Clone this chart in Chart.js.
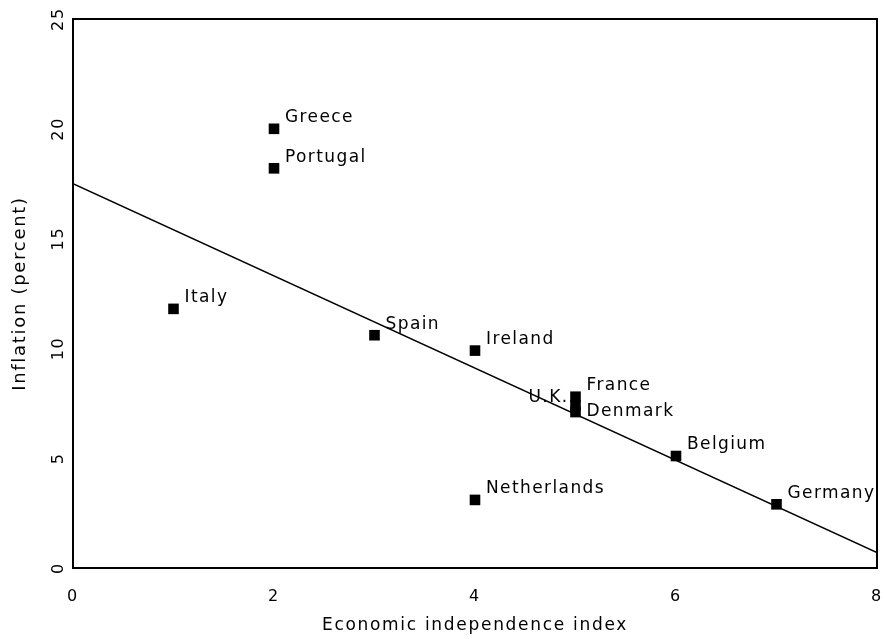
<!DOCTYPE html>
<html>
<head>
<meta charset="utf-8">
<script src="https://cdn.jsdelivr.net/npm/chart.js@4/dist/chart.umd.min.js"></script>
<style>
  html, body { margin: 0; padding: 0; background: #fff; }
  #wrap { width: 886px; height: 639px; }
</style>
</head>
<body>
<div id="wrap"><canvas id="chart"></canvas></div>
<script>
// values
const countries = ['Greece', 'Portugal', 'Italy', 'Spain', 'Ireland', 'France', 'U.K.', 'Denmark', 'Belgium', 'Netherlands', 'Germany'];
const independence = [2, 2, 1, 3, 4, 5, 5, 5, 6, 4, 7];
const inflation = [20.0, 18.2, 11.8, 10.6, 9.9, 7.8, 7.4, 7.1, 5.1, 3.1, 2.9];

// fitted line end points
const fitX = [0, 8];
const fitY = [17.5, 0.7];

const xTicks = [0, 2, 4, 6, 8];
const yTicks = [0, 5, 10, 15, 20, 25];

const FONT = 'DejaVu Sans';

// label placement tweaks (pixels from marker)
const labelOffset = {
  'U.K.': { dx: -7, dy: -8, align: 'right' },
  'Denmark': { dx: 11, dy: -1, align: 'left' }
};

// the plotter font is wider than DejaVu, so space the letters out a bit
const spacing = {
  id: 'spacing',
  beforeDraw(chart) { chart.ctx.letterSpacing = '1.7px'; }
};

const pointLabels = {
  id: 'pointLabels',
  afterDatasetsDraw(chart) {
    const { ctx } = chart;
    const meta = chart.getDatasetMeta(1);
    ctx.save();
    ctx.letterSpacing = '1.4px';
    ctx.font = '17px "' + FONT + '"';
    ctx.fillStyle = '#000';
    ctx.textBaseline = 'middle';
    meta.data.forEach((pt, i) => {
      const name = countries[i];
      const o = labelOffset[name] || { dx: 11, dy: -11, align: 'left' };
      ctx.textAlign = o.align;
      ctx.fillText(name, pt.x + o.dx, pt.y + o.dy);
    });
    ctx.restore();
  }
};

const frame = {
  id: 'frame',
  afterDraw(chart) {
    const { ctx, chartArea: a } = chart;
    ctx.save();
    ctx.strokeStyle = '#000';
    ctx.lineWidth = 2;
    ctx.strokeRect(a.left, a.top, a.right - a.left, a.bottom - a.top);
    ctx.restore();
  }
};

new Chart(document.getElementById('chart'), {
  type: 'scatter',
  data: {
    datasets: [
      {
        type: 'line',
        data: fitX.map((x, i) => ({ x: x, y: fitY[i] })),
        borderColor: '#000',
        borderWidth: 1.5,
        pointRadius: 0,
        fill: false
      },
      {
        data: independence.map((x, i) => ({ x: x, y: inflation[i] })),
        pointStyle: 'rect',
        pointRadius: 7.5,
        backgroundColor: '#000',
        borderColor: '#000',
        borderWidth: 0
      }
    ]
  },
  options: {
    responsive: true,
    maintainAspectRatio: false,
    animation: false,
    layout: { padding: { top: 19, right: 9, left: 0, bottom: 0 } },
    plugins: {
      legend: { display: false },
      tooltip: { enabled: false }
    },
    scales: {
      x: {
        type: 'linear',
        min: 0,
        max: 8,
        afterBuildTicks: s => { s.ticks = xTicks.map(v => ({ value: v })); },
        afterFit: s => { s.height = 71; s.paddingLeft = 0; s.paddingRight = 0; },
        grid: { display: false },
        border: { display: false },
        ticks: { color: '#000', font: { family: FONT, size: 16 }, padding: 11, maxRotation: 0 },
        title: {
          display: true,
          text: 'Economic independence index',
          color: '#000',
          font: { family: FONT, size: 17 },
          padding: { top: 0, bottom: 3 }
        }
      },
      y: {
        type: 'linear',
        min: 0,
        max: 25,
        afterBuildTicks: s => { s.ticks = yTicks.map(v => ({ value: v })); },
        afterFit: s => { s.width = 73; s.paddingTop = 0; s.paddingBottom = 0; },
        grid: { display: false },
        border: { display: false },
        ticks: {
          color: '#000',
          font: { family: FONT, size: 16 },
          padding: -4,
          minRotation: 90,
          maxRotation: 90,
          crossAlign: 'center'
        },
        title: {
          display: true,
          text: 'Inflation (percent)',
          color: '#000',
          font: { family: FONT, size: 18 },
          padding: { top: 10, bottom: 0 }
        }
      }
    }
  },
  plugins: [spacing, pointLabels, frame]
});
</script>
</body>
</html>
